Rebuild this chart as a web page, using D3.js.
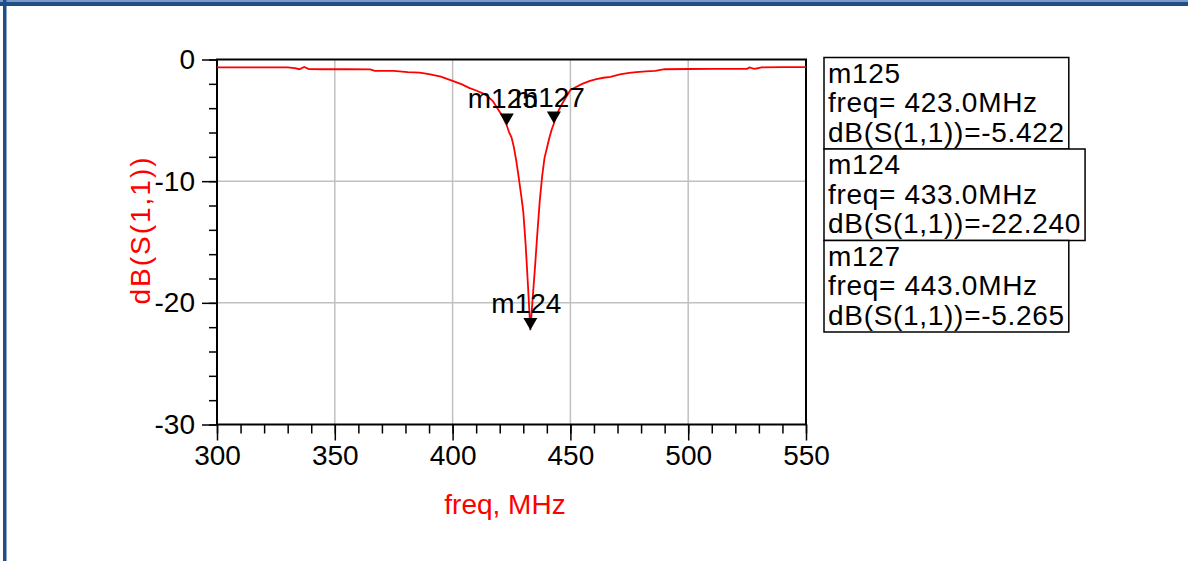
<!DOCTYPE html>
<html>
<head>
<meta charset="utf-8">
<script src="https://cdn.jsdelivr.net/npm/d3@7/dist/d3.min.js"></script>
<style>
  body { margin: 0; background: #fff; }
  text { font-family: "Liberation Sans", Arial, sans-serif; }
</style>
</head>
<body>
<div id="chart"></div>
<script>
// trace: freq (MHz) and dB(S(1,1))
const freq = [300, 310, 320, 330, 333, 335, 337, 339, 345, 355, 365, 367, 375, 381, 386, 390, 395,
  400, 404, 407, 410, 413, 415, 417, 419, 421, 423, 424, 425, 426, 427, 428, 429, 430, 431, 432,
  433, 434, 435, 436, 437, 438, 439, 440, 441, 442, 443, 444, 446, 448, 450, 452, 455, 458, 461,
  464, 467, 471, 475, 478, 482, 486, 490, 500, 510, 520, 525, 526, 528, 529.5, 531, 540, 550];
const s11 = [-0.64, -0.64, -0.64, -0.65, -0.70, -0.80, -0.62, -0.79, -0.80, -0.80, -0.81, -0.93, -0.94,
  -1.04, -1.08, -1.20, -1.40, -1.75, -2.05, -2.33, -2.55, -2.80, -3.05, -3.40, -4.00, -4.60, -5.422,
  -6.0, -6.4, -7.2, -8.3, -9.6, -11.0, -12.5, -15.2, -18.6, -22.24, -19.6, -17.0, -14.2, -11.6, -9.6,
  -8.1, -7.3, -6.5, -5.8, -5.265, -4.6, -3.8, -3.15, -2.5, -2.3, -2.0, -1.78, -1.62, -1.5, -1.42,
  -1.23, -1.1, -1.04, -0.97, -0.93, -0.80, -0.78, -0.77, -0.77, -0.77, -0.65, -0.77, -0.72, -0.64,
  -0.63, -0.62];

const markerNames = ["m125", "m124", "m127"];
const markerFreq = [423.0, 433.0, 443.0];
const markerDb = [-5.422, -22.240, -5.265];

const xTicks = [300, 350, 400, 450, 500, 550];
const yTicks = [0, -10, -20, -30];

const W = 1188, H = 561;
const fs = 28;

const svg = d3.select("#chart").append("svg")
  .attr("width", W).attr("height", H);

// window frame bits (top bar + left edge)
svg.append("rect").attr("x", 0).attr("y", 0).attr("width", W).attr("height", 2).attr("fill", "#7d9acb");
svg.append("rect").attr("x", 0).attr("y", 2).attr("width", W).attr("height", 4).attr("fill", "#1f4e89");
svg.append("rect").attr("x", 3).attr("y", 0).attr("width", 3.5).attr("height", H).attr("fill", "#1f4e89");

const x = d3.scaleLinear().domain([300, 550]).range([217, 806]);
const y = d3.scaleLinear().domain([-30, 0]).range([424.5, 59.5]);

// grid
const grid = svg.append("g").attr("stroke", "#c0c0c0").attr("stroke-width", 1.5);
grid.selectAll("line.gx").data(xTicks.slice(1, -1)).join("line")
  .attr("x1", d => x(d)).attr("x2", d => x(d)).attr("y1", y(0)).attr("y2", y(-30));
grid.selectAll("line.gy").data(yTicks.slice(1, -1)).join("line")
  .attr("y1", d => y(d)).attr("y2", d => y(d)).attr("x1", x(300)).attr("x2", x(550));

// minor ticks
svg.append("g").attr("transform", `translate(0,${y(-30)})`)
  .call(d3.axisBottom(x).tickValues(d3.range(300, 551, 10)).tickSize(9).tickFormat(""))
  .call(g => g.select(".domain").remove())
  .selectAll("line").attr("stroke-width", 1.5);
svg.append("g").attr("transform", `translate(${x(300)},0)`)
  .call(d3.axisLeft(y).tickValues(d3.range(-30, 1, 2)).tickSize(8).tickFormat(""))
  .call(g => g.select(".domain").remove())
  .selectAll("line").attr("stroke-width", 1.5);

// major ticks + labels
const gx = svg.append("g").attr("transform", `translate(0,${y(-30)})`)
  .call(d3.axisBottom(x).tickValues(xTicks).tickSize(16).tickPadding(5).tickFormat(d => String(d)))
  .call(g => g.select(".domain").remove());
gx.selectAll("line").attr("stroke-width", 1.5);
gx.selectAll("text").attr("font-size", fs).attr("fill", "#000")
  .style("font-family", "Liberation Sans, Arial, sans-serif");

const gy = svg.append("g").attr("transform", `translate(${x(300)},0)`)
  .call(d3.axisLeft(y).tickValues(yTicks).tickSize(15).tickPadding(7).tickFormat(d => String(d)))
  .call(g => g.select(".domain").remove());
gy.selectAll("line").attr("stroke-width", 1.5);
gy.selectAll("text").attr("font-size", fs).attr("fill", "#000")
  .style("font-family", "Liberation Sans, Arial, sans-serif");

// plot frame
svg.append("rect")
  .attr("x", x(300)).attr("y", y(0))
  .attr("width", x(550) - x(300)).attr("height", y(-30) - y(0))
  .attr("fill", "none").attr("stroke", "#000").attr("stroke-width", 2);

// trace
const line = d3.line().x((d, i) => x(freq[i])).y(d => y(d));
svg.append("path").datum(s11)
  .attr("fill", "none").attr("stroke", "#ff0000").attr("stroke-width", 1.8)
  .attr("d", line);

// axis titles
svg.append("text").attr("x", 505).attr("y", 514).attr("text-anchor", "middle")
  .attr("font-size", fs).attr("fill", "#ff0000").text("freq, MHz");
svg.append("text").attr("transform", "translate(150,230) rotate(-90)")
  .attr("text-anchor", "middle").attr("font-size", fs).attr("fill", "#ff0000")
  .attr("letter-spacing", 2)
  .text("dB(S(1,1))");

// markers on trace
markerNames.forEach((name, i) => {
  const px = x(markerFreq[i]), py = y(markerDb[i]);
  svg.append("path")
    .attr("d", `M${px - 7},${py - 12}L${px + 7},${py - 12}L${px},${py}Z`)
    .attr("fill", "#000");
  svg.append("text").attr("x", px - 4).attr("y", py - 17)
    .attr("text-anchor", "middle").attr("font-size", fs).attr("fill", "#000")
    .text(name);
});

// marker readout boxes
let boxY = 57.5;
const boxH = 91.5;
markerNames.forEach((name, i) => {
  const g = svg.append("g");
  const rows = [name, `freq= ${markerFreq[i].toFixed(1)}MHz`, `dB(S(1,1))=${markerDb[i].toFixed(3)}`];
  const t = g.selectAll("text").data(rows).join("text")
    .attr("x", 828).attr("y", (d, j) => boxY + 25 + j * 29.5)
    .attr("font-size", fs).attr("letter-spacing", 0.7).attr("fill", "#000").text(d => d);
  const wmax = d3.max(t.nodes(), n => n.getComputedTextLength());
  g.insert("rect", "text").attr("x", 824).attr("y", boxY)
    .attr("width", wmax + 8).attr("height", boxH)
    .attr("fill", "#fff").attr("stroke", "#000").attr("stroke-width", 1.5);
  boxY += boxH;
});
</script>
</body>
</html>
